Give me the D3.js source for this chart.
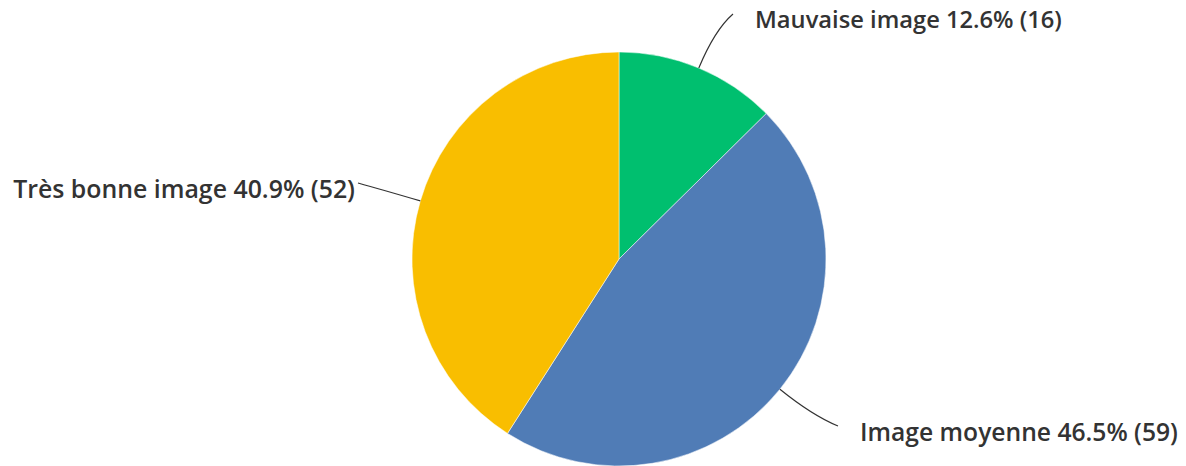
<!DOCTYPE html>
<html>
<head>
<meta charset="utf-8">
<script src="https://cdn.jsdelivr.net/npm/d3@7"></script>
<style>
  html, body { margin: 0; padding: 0; background: #fff; }
  svg { display: block; }
  .lbl { font-family: "Open Sans", Roboto, "Liberation Sans", sans-serif; font-weight: 600; font-size: 20px; fill: #333; }
</style>
</head>
<body>
<svg id="chart" width="1186" height="466"></svg>
<script>
const categories = ["Mauvaise image", "Image moyenne", "Très bonne image"];
const counts = [16, 59, 52];
const percents = ["12.6%", "46.5%", "40.9%"];
const colors = ["#00bf6f", "#507cb6", "#f9be00"];

const W = 1186, H = 466;
const cx = 619, cy = 259, r = 207;

const svg = d3.select("#chart");
const g = svg.append("g").attr("transform", `translate(${cx},${cy})`);

const pie = d3.pie().sort(null).value(d => d.count);
const data = categories.map((c, i) => ({ name: c, count: counts[i], pct: percents[i], color: colors[i] }));
const arcs = pie(data);
const arc = d3.arc().innerRadius(0).outerRadius(r);

g.selectAll("path.slice").data(arcs).enter().append("path")
  .attr("class", "slice")
  .attr("d", arc)
  .attr("fill", d => d.data.color)
  .attr("stroke", "#ffffff")
  .attr("stroke-opacity", 0.5)
  .attr("stroke-width", 1);

// label layout
const labelPos = [
  { end: [733 - cx, 14 - cy], tx: 755 - cx, ty: 28 - cy, anchor: "start", w: 307 },
  { end: [838 - cx, 426 - cy], tx: 860 - cx, ty: 441 - cy, anchor: "start", w: 318 },
  { end: [358 - cx, 183 - cy], tx: 355 - cx, ty: 198 - cy, anchor: "end", w: 342 }
];

arcs.forEach((a, i) => {
  const mid = (a.startAngle + a.endAngle) / 2;
  const sx = Math.sin(mid) * r, sy = -Math.cos(mid) * r;
  const k = 1.2;
  const c1x = Math.sin(mid) * r * k, c1y = -Math.cos(mid) * r * k;
  const p = d3.path();
  p.moveTo(sx, sy);
  p.quadraticCurveTo(c1x, c1y, labelPos[i].end[0], labelPos[i].end[1]);
  g.append("path").attr("d", p.toString())
    .attr("fill", "none").attr("stroke", "#333").attr("stroke-width", 1.2);
  const t = g.append("text").attr("class", "lbl")
    .attr("x", labelPos[i].tx).attr("y", labelPos[i].ty)
    .attr("text-anchor", labelPos[i].anchor)
    .text(`${a.data.name} ${a.data.pct} (${a.data.count})`);
  const len = t.node().getComputedTextLength();
  const fs = 20 * labelPos[i].w / len;
  t.style("font-size", fs.toFixed(2) + "px");
});
</script>
</body>
</html>
